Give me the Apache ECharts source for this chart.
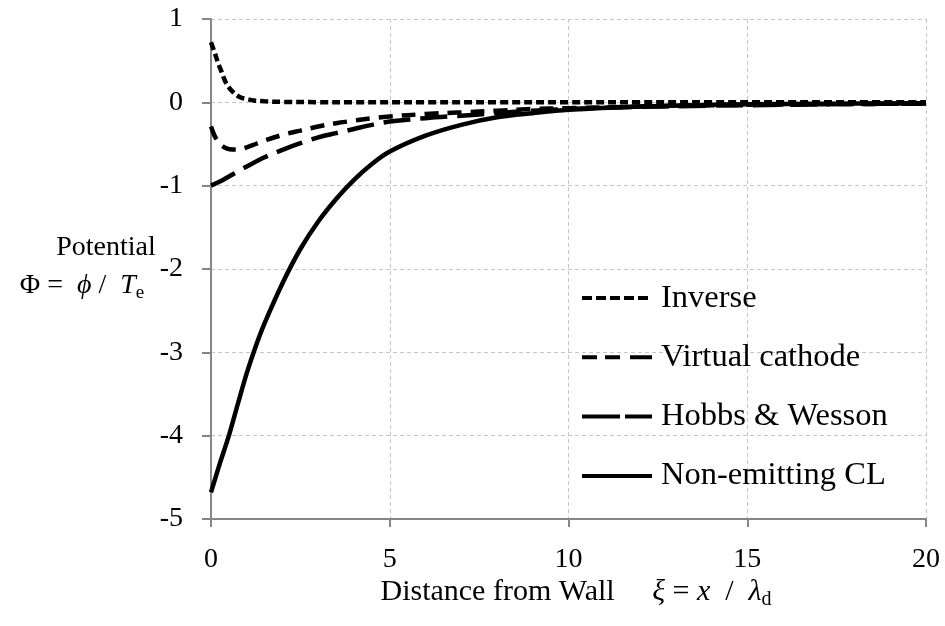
<!DOCTYPE html>
<html>
<head>
<meta charset="utf-8">
<script src="https://cdn.jsdelivr.net/npm/echarts@6/dist/echarts.min.js"></script>
<style>html,body{margin:0;padding:0;background:#fff}#c{width:945px;height:626px}</style>
</head>
<body>
<div id="c"></div>
<script>
var seriesNames = ['Inverse', 'Virtual cathode', 'Hobbs & Wesson', 'Non-emitting CL'];
var xTicks = [0, 5, 10, 15, 20];
var yTicks = [-5, -4, -3, -2, -1, 0, 1];

var inverseX = [0, 0.1, 0.2, 0.3, 0.4, 0.5, 0.6, 0.8, 1, 1.2, 1.5, 2, 3, 4, 6, 8, 10, 12, 14, 16, 18, 20];
var inverseY = [0.72, 0.6, 0.47, 0.36, 0.25, 0.18, 0.13, 0.065, 0.04, 0.022, 0.012, 0.005, 0.002, 0, 0, 0, 0, 0, 0, 0, 0, 0];

var virtualX = [0, 0.1, 0.2, 0.3, 0.45, 0.6, 0.75, 1, 1.25, 1.5, 2, 2.5, 3, 3.5, 4, 4.5, 5, 6, 7, 8, 9, 10, 12, 14, 16, 18, 20];
var virtualY = [-0.29, -0.40, -0.47, -0.52, -0.555, -0.565, -0.565, -0.54, -0.50, -0.46, -0.39, -0.34, -0.29, -0.25, -0.22, -0.19, -0.17, -0.14, -0.12, -0.10, -0.08, -0.07, -0.05, -0.035, -0.025, -0.02, -0.015];

var hobbsX = [0, 0.25, 0.5, 0.75, 1, 1.5, 2, 2.5, 3, 3.5, 4, 4.5, 5, 6, 7, 8, 9, 10, 12, 14, 16, 18, 20];
var hobbsY = [-1.0, -0.95, -0.89, -0.83, -0.77, -0.66, -0.57, -0.49, -0.42, -0.37, -0.32, -0.27, -0.23, -0.19, -0.16, -0.13, -0.10, -0.08, -0.055, -0.04, -0.03, -0.02, -0.015];

var clX = [0, 0.25, 0.5, 0.75, 1, 1.25, 1.5, 2, 2.5, 3, 3.5, 4, 4.5, 5, 6, 7, 8, 9, 10, 12, 14, 16, 18, 20];
var clY = [-4.68, -4.33, -4.0, -3.62, -3.25, -2.93, -2.65, -2.17, -1.76, -1.43, -1.16, -0.93, -0.74, -0.59, -0.40, -0.27, -0.18, -0.13, -0.09, -0.05, -0.03, -0.02, -0.015, -0.01];

function zip(xs, ys) { return xs.map(function (x, i) { return [x, ys[i]]; }); }

var FONT = 'Liberation Serif';
var chart = echarts.init(document.getElementById('c'));

var plotDash = [[8, 4], [14, 9], [27, 10], 'solid'];
var legendDash = [[10, 4], [15, 8, 15, 10, 22, 10], [38, 5, 27, 5], 'solid'];

function mkSeries(idx, xs, ys) {
  return {
    name: seriesNames[idx], type: 'line', data: zip(xs, ys), symbol: 'none', showSymbol: false,
    smooth: 0.35,
    lineStyle: { color: '#000', width: 4.5, type: plotDash[idx] },
    itemStyle: { color: '#000' },
    emphasis: { disabled: true }, animation: false
  };
}

function richSet(size, subSize) {
  return {
    n: { fontFamily: FONT, fontSize: size, fontWeight: 'normal', color: '#000' },
    i: { fontFamily: FONT, fontSize: size, fontWeight: 'normal', fontStyle: 'italic', color: '#000' },
    s: { fontFamily: FONT, fontSize: subSize, fontWeight: 'normal', color: '#000', padding: [15, 0, 0, 0] }
  };
}

chart.setOption({
  animation: false,
  backgroundColor: '#fff',
  grid: { left: 211, right: 19, top: 19, bottom: 107, containLabel: false },
  title: [
    {
      text: '{n|Distance from Wall     }{i|ξ}{n| = }{i|x}{n|  /  }{i|λ}{s|d}',
      left: 571, top: 570, textAlign: 'center',
      textStyle: { fontWeight: 'normal', rich: richSet(30, 20) }
    },
    {
      text: 'Potential',
      left: 101, top: 229, textAlign: 'center',
      textStyle: { fontFamily: FONT, fontSize: 28, fontWeight: 'normal', color: '#000' }
    },
    {
      text: '{n|Φ =  }{i|ϕ}{n| /  }{i|T}{s|e}',
      left: 77, top: 264, textAlign: 'center',
      textStyle: { fontWeight: 'normal', rich: richSet(28, 19) }
    }
  ],
  legend: {
    orient: 'vertical', left: 580, top: 281, padding: 0,
    itemWidth: 70, itemHeight: 14, itemGap: 25.3,
    data: seriesNames.map(function (n, i) {
      return { name: n, lineStyle: { width: 4, type: legendDash[i], color: '#000' } };
    }),
    itemStyle: { opacity: 0 },
    lineStyle: { width: 4 },
    textStyle: { fontFamily: FONT, fontSize: 32.5, color: '#000', lineHeight: 34, padding: [0, 0, 0, 4] },
    selectedMode: false
  },
  xAxis: {
    type: 'value', min: xTicks[0], max: xTicks[xTicks.length - 1], interval: 5,
    axisLine: { onZero: false, lineStyle: { color: '#868686', width: 2 } },
    axisTick: { show: true, length: 8, lineStyle: { color: '#868686', width: 2 } },
    axisLabel: { fontFamily: FONT, fontSize: 28, color: '#000', margin: 27 },
    splitLine: { show: true, lineStyle: { color: '#c6c6c6', width: 1, type: [4, 3] } }
  },
  yAxis: {
    type: 'value', min: yTicks[0], max: yTicks[yTicks.length - 1], interval: 1,
    axisLine: { show: true, onZero: false, lineStyle: { color: '#868686', width: 2 } },
    axisTick: { show: true, length: 9, lineStyle: { color: '#868686', width: 2 } },
    axisLabel: { fontFamily: FONT, fontSize: 28, color: '#000', margin: 28 },
    splitLine: { show: true, lineStyle: { color: '#c6c6c6', width: 1, type: [4, 3] } }
  },
  series: [
    mkSeries(0, inverseX, inverseY),
    mkSeries(1, virtualX, virtualY),
    mkSeries(2, hobbsX, hobbsY),
    mkSeries(3, clX, clY)
  ]
});
</script>
</body>
</html>
